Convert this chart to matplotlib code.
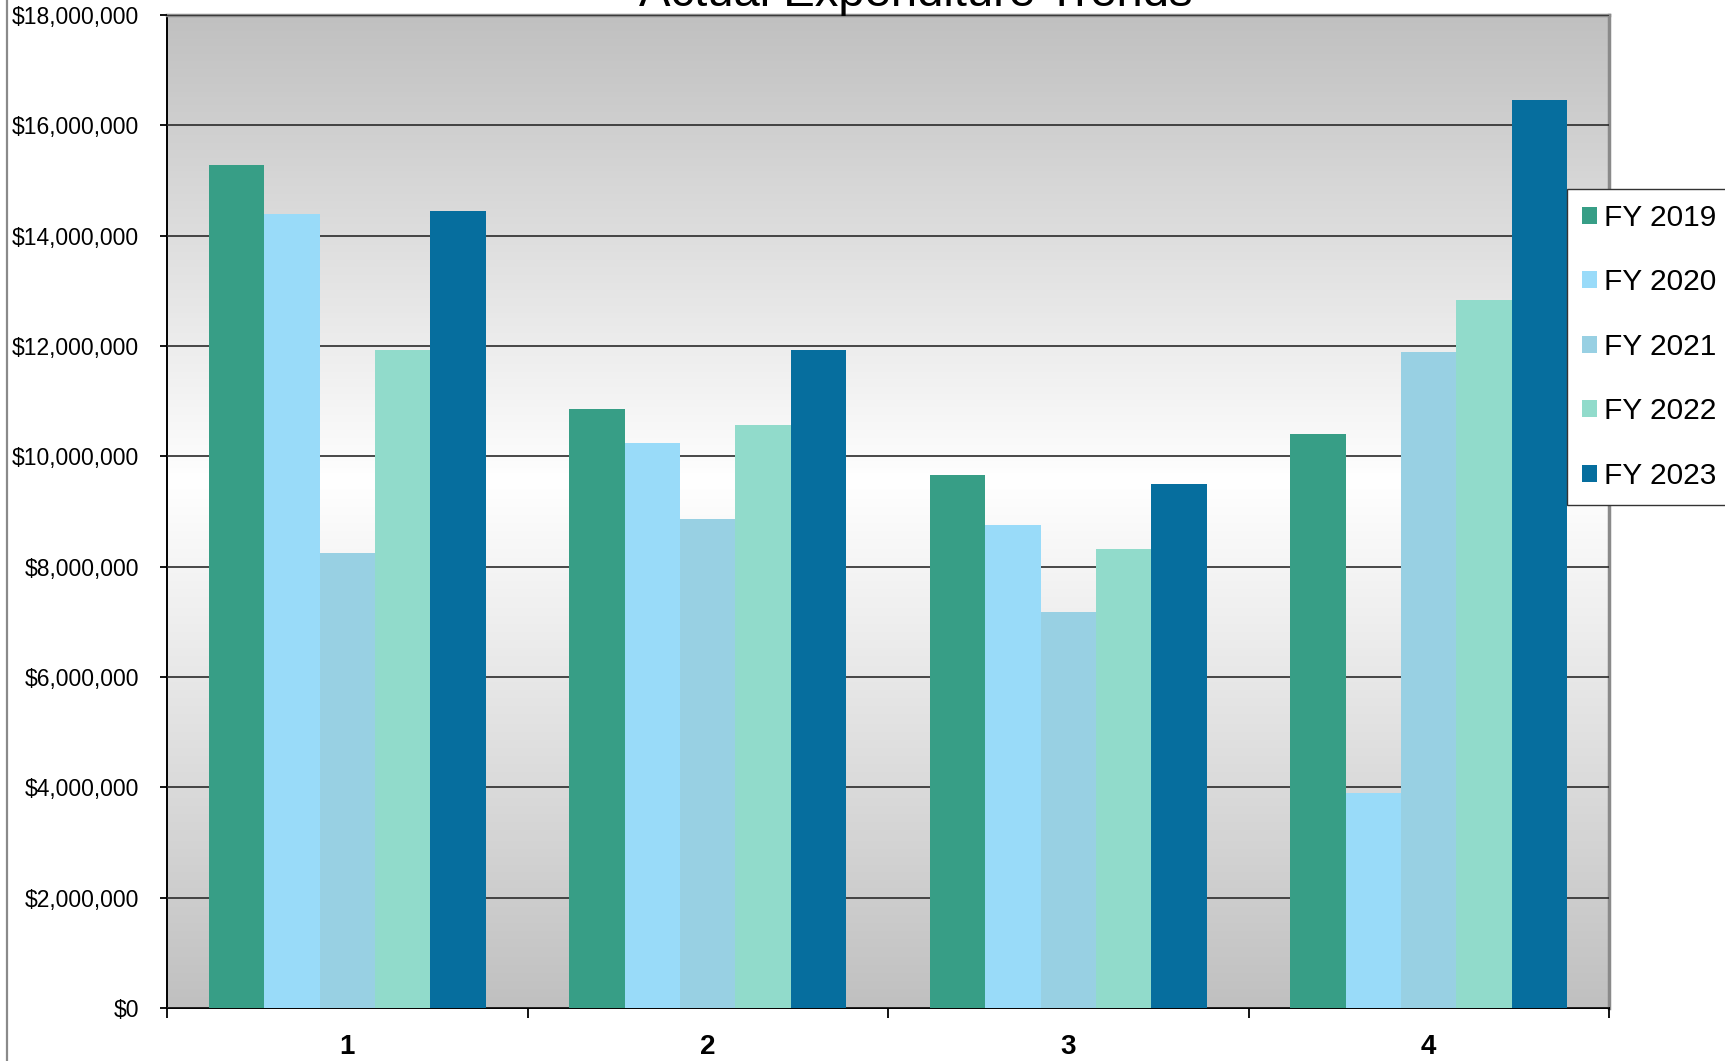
import numpy as np
import matplotlib
matplotlib.use("Agg")
import matplotlib.pyplot as plt
from matplotlib.colors import LinearSegmentedColormap
from matplotlib.lines import Line2D
from matplotlib.ticker import FuncFormatter, MultipleLocator

plt.rcParams["font.family"] = ["Liberation Sans", "DejaVu Sans"]

# Quarterly actual expenditure by fiscal year
quarters = ["1", "2", "3", "4"]
series_names = ["FY 2019", "FY 2020", "FY 2021", "FY 2022", "FY 2023"]
fy2019 = [15290000, 10860000, 9660000, 10400000]
fy2020 = [14390000, 10240000, 8760000, 3890000]
fy2021 = [8240000, 8860000, 7180000, 11890000]
fy2022 = [11930000, 10560000, 8320000, 12830000]
fy2023 = [14450000, 11930000, 9500000, 16460000]
series_values = [fy2019, fy2020, fy2021, fy2022, fy2023]
series_colors = ["#379E86", "#99DBF9", "#98D0E3", "#91DBCB", "#066E9E"]

W, H, DPI = 1725, 1061, 100
fig = plt.figure(figsize=(W / DPI, H / DPI), dpi=DPI)
fig.patch.set_facecolor("white")

left, right, top, bottom = 167, 1609, 15, 1008
ax = fig.add_axes([left / W, 1 - bottom / H, (right - left) / W, (bottom - top) / H])

ymax = 18000000
n_series = len(series_names)
x = np.arange(len(quarters))
bar_w = 1 / (n_series + 1.5)

# plot-area fill: grey at top and bottom fading to white in the middle
grad_cmap = LinearSegmentedColormap.from_list(
    "plotfill", [(0.0, "#c0c0c0"), (0.47, "#ffffff"), (1.0, "#c0c0c0")])
ax.imshow(np.linspace(0, 1, 512).reshape(-1, 1), cmap=grad_cmap, aspect="auto",
          extent=(-0.5, len(quarters) - 0.5, 0, ymax), origin="upper", zorder=0)

for i, (name, vals, col) in enumerate(zip(series_names, series_values, series_colors)):
    ax.bar(x + (i - (n_series - 1) / 2) * bar_w, vals, width=bar_w, color=col,
           label=name, zorder=3, linewidth=0)

ax.set_xlim(-0.5, len(quarters) - 0.5)
ax.set_ylim(0, ymax)

ax.yaxis.set_major_locator(MultipleLocator(2000000))
ax.yaxis.set_major_formatter(FuncFormatter(lambda v, p: "${:,.0f}".format(v)))
ax.grid(axis="y", color="#2a2a2a", linewidth=1.2, zorder=1)
ax.set_axisbelow(False)

# category labels centred, tick marks on the category boundaries
ax.set_xticks(x)
ax.set_xticklabels(quarters, fontsize=20, fontweight="bold")
ax.tick_params(axis="x", which="major", length=0, pad=19)
ax.set_xticks(np.arange(-0.5, len(quarters)), minor=True)
ax.tick_params(axis="x", which="minor", length=7, width=1.3, color="black")
ax.tick_params(axis="y", length=5, width=1.3, labelsize=16.5, pad=15)

for side in ("left", "bottom"):
    ax.spines[side].set_color("black")
    ax.spines[side].set_linewidth(1.4)
for side in ("top", "right"):
    ax.spines[side].set_color("#8a8a8a")
    ax.spines[side].set_linewidth(2.5)

leg = ax.legend(loc="upper left", bbox_to_anchor=(1567 / W, 1 - 189 / H),
                bbox_transform=fig.transFigure, fontsize=21.5, frameon=True,
                fancybox=False, edgecolor="#333333", framealpha=1,
                handlelength=0.5, handleheight=0.5, handletextpad=0.25,
                labelspacing=1.22, borderpad=0.5, borderaxespad=0)
leg.get_frame().set_linewidth(1.0)
leg.set_zorder(10)

fig.text(916 / W, 1 - 6 / H, "Actual Expenditure Trends", fontsize=34,
         ha="center", va="baseline")

# chart-area border on the left
fig.add_artist(Line2D([7.3 / W, 7.3 / W], [0, 1], transform=fig.transFigure,
                      color="#8a8a8a", linewidth=1.6))

fig.savefig("out.png", dpi=DPI)
